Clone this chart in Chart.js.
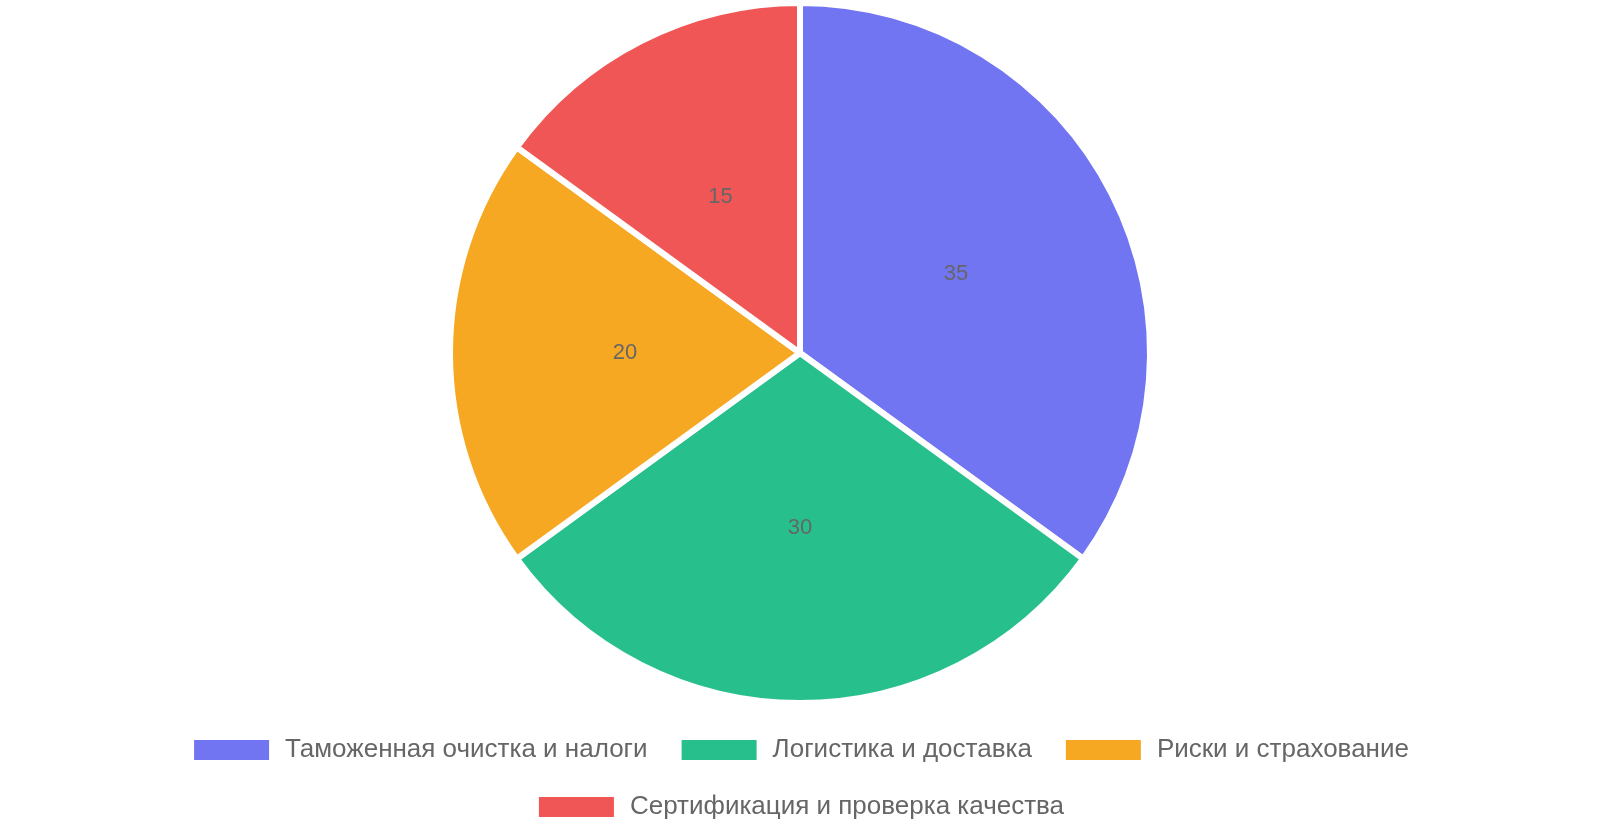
<!DOCTYPE html>
<html>
<head>
<meta charset="utf-8">
<script src="https://cdn.jsdelivr.net/npm/chart.js@4.4.0/dist/chart.umd.min.js"></script>
<style>
    html, body { margin: 0; padding: 0; background: #fff; }
    #wrap { position: absolute; left: 0; top: 0; width: 1600px; height: 830px; }
</style>
</head>
<body>
<div id="wrap"><canvas id="pieChart"></canvas></div>
<script>
// Cost structure data
const categories = [
    'Таможенная очистка и налоги',
    'Логистика и доставка',
    'Риски и страхование',
    'Сертификация и проверка качества'
];
const shares = [35, 30, 20, 15];
const sliceColors = [
    'rgba(99, 102, 241, 0.9)',
    'rgba(16, 185, 129, 0.9)',
    'rgba(245, 158, 11, 0.9)',
    'rgba(239, 68, 68, 0.9)'
];

// Draw the value in the middle of each slice
const sliceLabels = {
    id: 'sliceLabels',
    afterDatasetsDraw: function(chart) {
        const ctx = chart.ctx;
        const meta = chart.getDatasetMeta(0);
        ctx.save();
        ctx.font = '22px "Liberation Sans", Arial, sans-serif';
        ctx.fillStyle = '#666';
        ctx.textAlign = 'center';
        ctx.textBaseline = 'middle';
        meta.data.forEach((arc, i) => {
            const pos = arc.getCenterPoint();
            ctx.fillText(String(shares[i]), pos.x, pos.y);
        });
        ctx.restore();
    }
};

new Chart(document.getElementById('pieChart').getContext('2d'), {
    type: 'pie',
    data: {
        labels: categories,
        datasets: [{
            data: shares,
            backgroundColor: sliceColors,
            borderColor: '#ffffff',
            borderWidth: 6
        }]
    },
    options: {
        responsive: true,
        maintainAspectRatio: false,
        animation: false,
        layout: { padding: { top: 0 } },
        plugins: {
            legend: {
                position: 'bottom',
                labels: {
                    color: '#666',
                    font: { family: '"Liberation Sans", Arial, sans-serif', size: 26 },
                    boxWidth: 81,
                    boxHeight: 26,
                    padding: 31,
                    generateLabels: function(chart) {
                        // white outline trims the box to 75x20
                        return Chart.controllers.pie.overrides.plugins.legend.labels.generateLabels(chart)
                            .map(item => Object.assign(item, { lineWidth: 6, strokeStyle: '#ffffff' }));
                    }
                }
            },
            tooltip: { enabled: false }
        }
    },
    plugins: [sliceLabels]
});
</script>
</body>
</html>
